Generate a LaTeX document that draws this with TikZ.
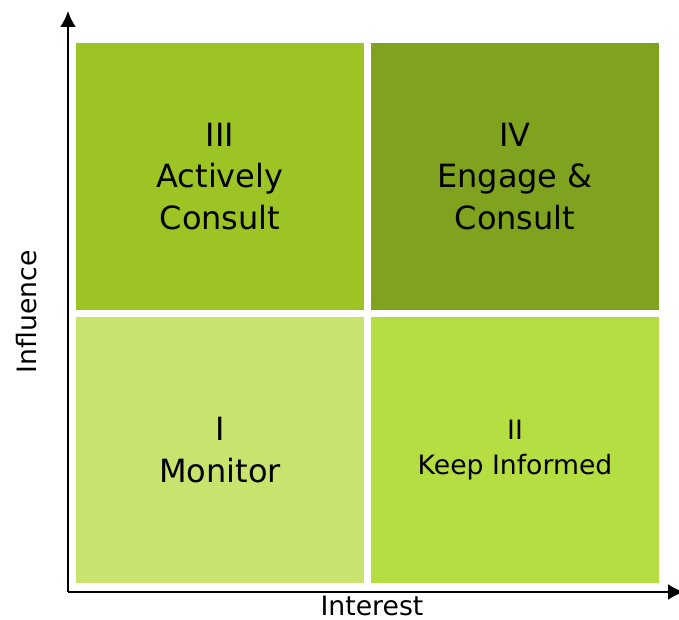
\documentclass[tikz,border=0pt]{standalone}
\usepackage{fontspec}
\setmainfont{DejaVu Sans}
\definecolor{GridOlive}{HTML}{9CC425}
\definecolor{GridDark}{HTML}{80A31F}
\definecolor{GridPale}{HTML}{C9E36F}
\definecolor{GridLime}{HTML}{B5DE43}
\usetikzlibrary{arrows.meta}

\begin{document}
\begin{tikzpicture}[x=0.75pt,y=-0.75pt,
      quad/.style={minimum width=216pt,minimum height=200pt,inner sep=0pt,
                   outer sep=0pt,align=center,font=\fontsize{24}{31}\selectfont},
      axis/.style={-{Latex[length=12pt,width=12pt]},line width=1.6pt},
      axislabel/.style={font=\fontsize{20}{24}\selectfont,inner sep=0pt}]
    \useasboundingbox (0,0) rectangle (679,620);
    \node[quad,fill=GridOlive] (actively) at (220,176.5) {III\\Actively\\Consult};
    \node[quad,fill=GridDark] (engage) at (515,176.5) {IV\\Engage \&\\Consult};
    \node[quad,fill=GridPale] (monitor) at (220,450) {I\\Monitor};
    \node[quad,fill=GridLime,font=\fontsize{20}{26}\selectfont] (informed) at (515,450)
      {II\\Keep Informed};
    \coordinate (origin) at (68,592);
    \coordinate (ytip) at (68,11);
    \coordinate (xtip) at (684,592);
    \draw[axis] (origin) -- (ytip);
    \draw[axis] (origin) -- (xtip);
    \node[axislabel] (interest) at (372,606) {Interest};
    \node[axislabel,rotate=90] (influence) at (27,312) {Influence};
  \end{tikzpicture}
\end{document}
